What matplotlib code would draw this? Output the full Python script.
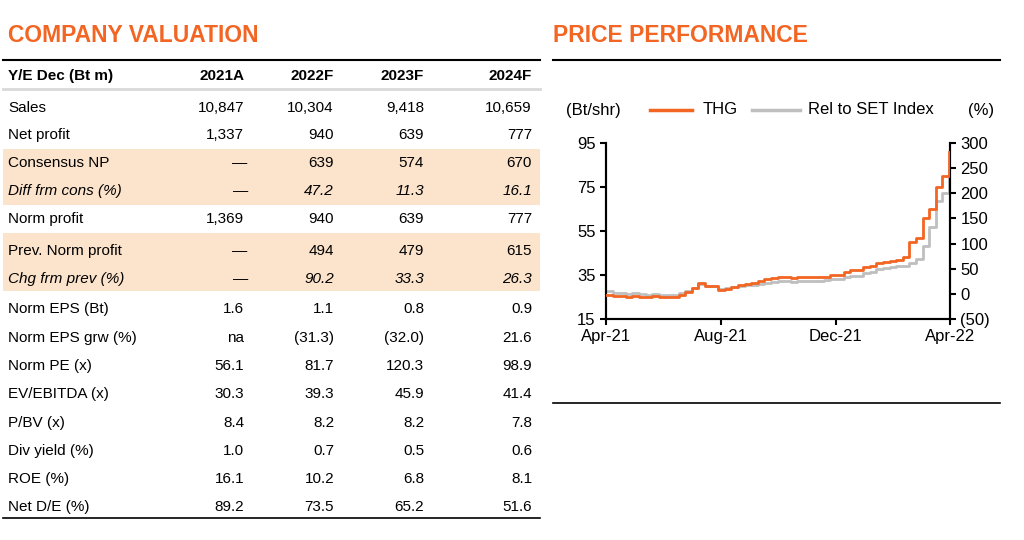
import matplotlib
matplotlib.use("Agg")
import matplotlib.pyplot as plt
import matplotlib.dates as mdates
from matplotlib.patches import Rectangle
from matplotlib.lines import Line2D
import pandas as pd

plt.rcParams['font.family'] = ['Liberation Sans', 'DejaVu Sans']

ORANGE = '#F26522'
GRAY = '#BFBFBF'
SHADE = '#FCE4CC'

columns = ['2021A', '2022F', '2023F', '2024F']
row_labels = ['Sales', 'Net profit', 'Consensus NP', 'Diff frm cons (%)', 'Norm profit',
              'Prev. Norm profit', 'Chg frm prev (%)', 'Norm EPS (Bt)', 'Norm EPS grw (%)',
              'Norm PE (x)', 'EV/EBITDA (x)', 'P/BV (x)', 'Div yield (%)', 'ROE (%)', 'Net D/E (%)']
row_values = [
    ['10,847', '10,304', '9,418', '10,659'],
    ['1,337', '940', '639', '777'],
    ['\u2014', '639', '574', '670'],
    ['\u2014', '47.2', '11.3', '16.1'],
    ['1,369', '940', '639', '777'],
    ['\u2014', '494', '479', '615'],
    ['\u2014', '90.2', '33.3', '26.3'],
    ['1.6', '1.1', '0.8', '0.9'],
    ['na', '(31.3)', '(32.0)', '21.6'],
    ['56.1', '81.7', '120.3', '98.9'],
    ['30.3', '39.3', '45.9', '41.4'],
    ['8.4', '8.2', '8.2', '7.8'],
    ['1.0', '0.7', '0.5', '0.6'],
    ['16.1', '10.2', '6.8', '8.1'],
    ['89.2', '73.5', '65.2', '51.6'],
]
italic_rows = {'Diff frm cons (%)', 'Chg frm prev (%)'}

thg = [26, 25.5, 25.5, 25, 25.5, 25, 25, 25.5, 25, 25,
       25, 26, 27.5, 29, 31.5, 30, 30,
       28, 28.5, 29.5, 30.5, 31, 31.5,
       32.5, 33, 33.5, 34, 34, 33.5, 34, 34, 34, 34,
       34, 35, 35, 36.5, 37.5, 37.5, 38.5,
       39, 40.5, 41, 41.5, 42, 43, 50,
       52, 61, 65, 75, 80, 91]
rel = [5, 2, 1, 0, 1, 0, -2, -1, -2, -3,
       -3, 1, 6, 12, 20, 16, 15,
       10, 12, 14, 15, 17, 18,
       20, 22, 24, 25, 25, 24, 25, 25, 25, 26,
       27, 30, 30, 33, 36, 36, 42,
       44, 50, 52, 53, 55, 56, 62,
       70, 95, 133, 185, 200, 245]
dates = pd.date_range('2021-04-01', periods=len(thg), freq='7D')

W, H = 1024, 540
fig = plt.figure(figsize=(W / 100, H / 100), dpi=100)

def fx(x): return x / W
def fy(y): return 1 - y / H

def hline(x0, x1, y, color='black', lw=1.0):
    fig.add_artist(Line2D([fx(x0), fx(x1)], [fy(y), fy(y)], color=color, lw=lw))

fig.text(fx(8), fy(36), 'COMPANY VALUATION', color=ORANGE, fontsize=16.5, fontweight='bold', va='center')
fig.text(fx(553), fy(36), 'PRICE PERFORMANCE', color=ORANGE, fontsize=16.5, fontweight='bold', va='center')

row_y = [108, 135, 163, 191, 219, 251, 279, 309, 338, 366, 394, 423, 451, 479, 507]
for y0, y1 in [(149, 205), (233, 291)]:
    fig.add_artist(Rectangle((fx(3), fy(y1)), fx(537), (y1 - y0) / H, color=SHADE, lw=0, zorder=0))
hline(3, 540, 60, lw=1.5)
hline(3, 540, 89, color='#D9D9D9', lw=2)
hline(3, 540, 518, lw=1.2)
col_x = [244, 334, 424, 532]
fs = 11
fig.text(fx(8), fy(76), 'Y/E Dec (Bt m)', fontsize=fs, fontweight='bold', va='center')
for cx, c in zip(col_x, columns):
    fig.text(fx(cx), fy(76), c, fontsize=fs, fontweight='bold', va='center', ha='right')
for lab, vals, y in zip(row_labels, row_values, row_y):
    st = 'italic' if lab in italic_rows else 'normal'
    fig.text(fx(8), fy(y), lab, fontsize=fs, style=st, va='center')
    for cx, v in zip(col_x, vals):
        xx = cx + 3 if v == '\u2014' else cx
        fig.text(fx(xx), fy(y), v, fontsize=fs, style=st, va='center', ha='right')

hline(553, 1000, 60, lw=1.5)
hline(553, 1000, 403, lw=1.2)

ax = fig.add_axes([fx(606), fy(319), (950 - 606) / W, (319 - 143) / H])
ax.plot(dates, thg, color=ORANGE, lw=2, zorder=3, drawstyle='steps-post')
ax.set_ylim(15, 95)
ax.set_yticks([15, 35, 55, 75, 95])
ax.set_xlim(pd.Timestamp('2021-04-01'), pd.Timestamp('2022-04-01'))
ax.set_xticks([pd.Timestamp('2021-04-01'), pd.Timestamp('2021-08-01'),
               pd.Timestamp('2021-12-01'), pd.Timestamp('2022-04-01')])
ax.xaxis.set_major_formatter(mdates.DateFormatter('%b-%y'))
ax2 = ax.twinx()
ax2.plot(dates, rel, color=GRAY, lw=2, zorder=2, drawstyle='steps-post')
ax2.set_ylim(-50, 300)
ax2.set_yticks([-50, 0, 50, 100, 150, 200, 250, 300])
ax2.set_yticklabels(['(50)', '0', '50', '100', '150', '200', '250', '300'])
ax.set_zorder(ax2.get_zorder() + 1)
ax.patch.set_visible(False)
for a in (ax, ax2):
    a.spines['top'].set_visible(False)
    for s in ('left', 'right', 'bottom'):
        a.spines[s].set_linewidth(1.5)
    a.tick_params(labelsize=12, width=1.5, length=4)

fig.text(fx(566), fy(110), '(Bt/shr)', fontsize=12, va='center')
fig.add_artist(Line2D([fx(650), fx(692)], [fy(110), fy(110)], color=ORANGE, lw=2.5))
fig.text(fx(703), fy(110), 'THG', fontsize=12, va='center')
fig.add_artist(Line2D([fx(752), fx(800)], [fy(110), fy(110)], color=GRAY, lw=2.5))
fig.text(fx(808), fy(110), 'Rel to SET Index', fontsize=12, va='center')
fig.text(fx(968), fy(110), '(%)', fontsize=12, va='center')

fig.savefig('out.png', dpi=100)
